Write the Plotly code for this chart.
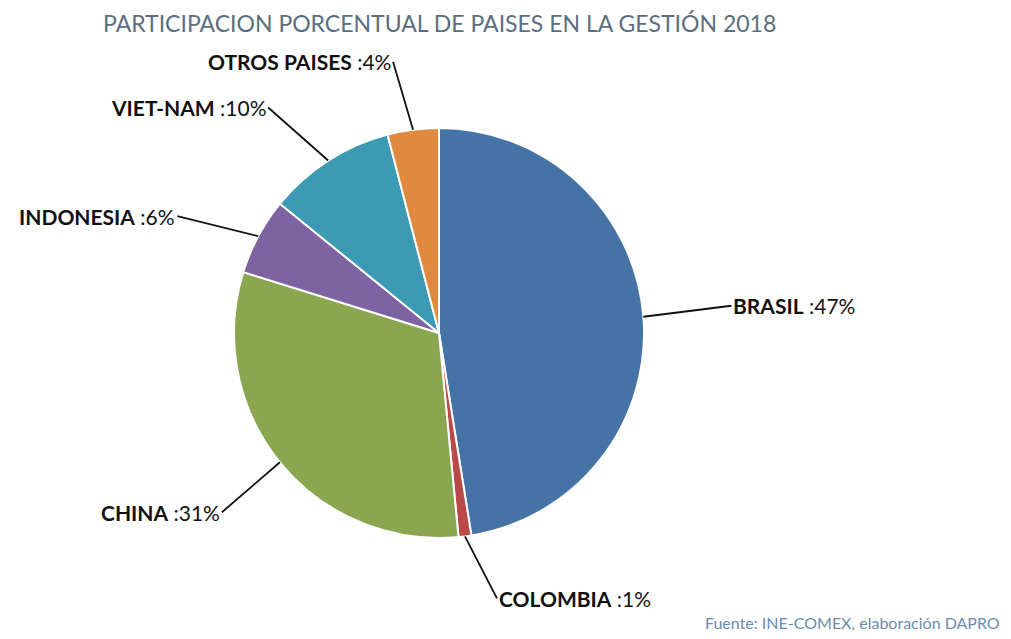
import math
import plotly.graph_objects as go

# datos
paises = ['BRASIL', 'COLOMBIA', 'CHINA', 'INDONESIA', 'VIET-NAM', 'OTROS PAISES']
porcentajes = [47, 1, 31, 6, 10, 4]
colores = ['#4673a6', '#b94a48', '#8aa64f', '#7d63a1', '#3d9ab4', '#df8a3e']

# la pagina deja 8px de margen en el body
W, H = 995, 623
cx, cy, rad = 431, 325, 205  # centro y radio del pastel en pixeles

# desplazamiento (px) de cada etiqueta respecto al borde del sector
desplaz = {
    'BRASIL': (88, -11, 'left'),
    'COLOMBIA': (32, 62, 'left'),
    'CHINA': (-58, 50, 'right'),
    'INDONESIA': (-81, -20, 'right'),
    'VIET-NAM': (-60, -53, 'right'),
    'OTROS PAISES': (-20, -68, 'right'),
}

fig = go.Figure(go.Pie(
    labels=paises,
    values=porcentajes,
    sort=False,
    direction='clockwise',
    rotation=0,
    textinfo='none',
    hoverinfo='label+percent',
    marker=dict(colors=colores, line=dict(color='white', width=2)),
    domain=dict(x=[(cx - rad) / W, (cx + rad) / W],
                y=[(H - cy - rad) / H, (H - cy + rad) / H]),
    showlegend=False,
))

total = sum(porcentajes)
acum = 0
anotaciones = []
for pais, v in zip(paises, porcentajes):
    ang = (acum + v / 2) / total * 2 * math.pi
    acum += v
    px = cx + rad * math.sin(ang)
    py = cy - rad * math.cos(ang)
    ax, ay, anc = desplaz[pais]
    anotaciones.append(dict(
        x=px / W, y=(H - py) / H, xref='paper', yref='paper',
        ax=ax, ay=ay, showarrow=True, arrowhead=0, arrowwidth=1.8,
        arrowcolor='#111111', xanchor=anc, yanchor='middle',
        text=f'<b>{pais}</b> :{v}%',
        font=dict(family='Lato', size=21, color='#111111'),
    ))

anotaciones.append(dict(
    x=431 / W, y=1, xref='paper', yref='paper', showarrow=False,
    text='PARTICIPACION PORCENTUAL DE PAISES EN LA GESTIÓN 2018',
    font=dict(family='Lato', size=23, color='#5b6e80'),
    xanchor='center', yanchor='top', borderpad=0,
))
anotaciones.append(dict(
    x=994 / W, y=1 - 614 / H, xref='paper', yref='paper', showarrow=False,
    text='Fuente: INE-COMEX, elaboración DAPRO',
    font=dict(family='Lato', size=16, color='#6a8cae'),
    xanchor='right', yanchor='middle',
))

fig.update_layout(
    width=W, height=H,
    margin=dict(l=0, r=0, t=0, b=0),
    paper_bgcolor='white',
    plot_bgcolor='white',
    annotations=anotaciones,
)

fig.write_html("out.html")
